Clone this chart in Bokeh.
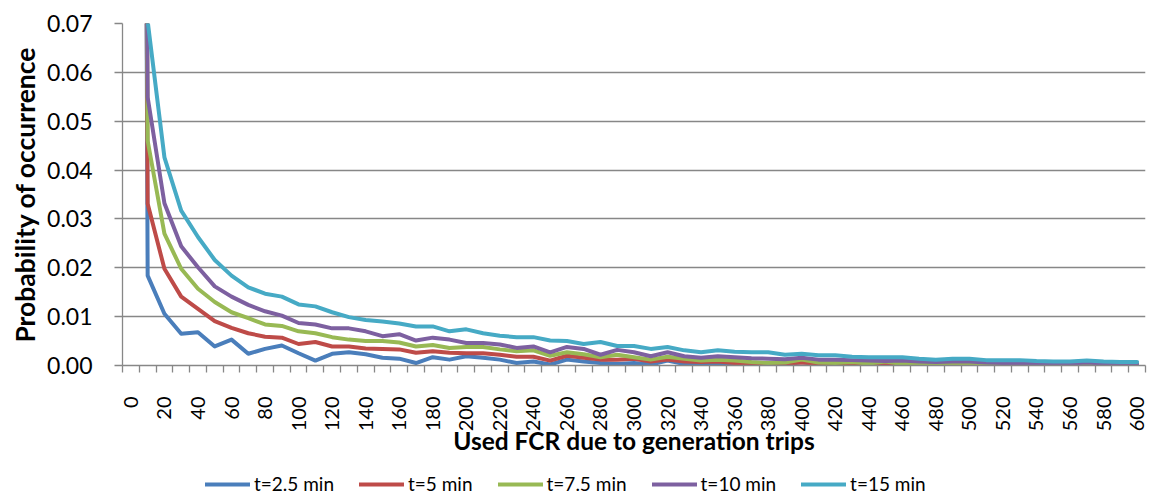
import math
from bokeh.plotting import figure
from bokeh.layouts import column
from bokeh.models import Range1d, FixedTicker, PrintfTickFormatter, Legend, LegendItem
from bokeh.embed import file_html
from bokeh.resources import INLINE

FONT = "Lato"

x_values = list(range(0, 601, 10))

s_2_5 = [0.85,
         0.0184, 0.0106, 0.0065, 0.0068, 0.0039, 0.0053, 0.0024, 0.0034, 0.0041, 0.0025,
         0.0010, 0.0024, 0.0027, 0.0023, 0.0016, 0.0014, 0.0005, 0.0017, 0.0012, 0.0019,
         0.0016, 0.0012, 0.0005, 0.0008, 0.0002, 0.0012, 0.0008, 0.0005, 0.0003, 0.0005,
         0.0002, 0.0010, 0.0003, 0.0002, 0.0002, 0.0001, 0.0001, 0.0000, 0.0001, 0.0007,
         0.0001, 0.0001, 0.0001, 0.0000, 0.0001, 0.0000, 0.0001, 0.0000, 0.0000, 0.0001,
         0.0000, 0.0000, 0.0000, 0.0000, 0.0000, 0.0000, 0.0000, 0.0000, 0.0000, 0.0000]

s_5 = [0.75,
       0.0331, 0.0198, 0.0141, 0.0116, 0.0091, 0.0077, 0.0066, 0.0059, 0.0057, 0.0044,
       0.0048, 0.0039, 0.0039, 0.0035, 0.0034, 0.0033, 0.0026, 0.0029, 0.0026, 0.0025,
       0.0025, 0.0022, 0.0018, 0.0018, 0.0010, 0.0020, 0.0016, 0.0012, 0.0012, 0.0014,
       0.0008, 0.0012, 0.0008, 0.0007, 0.0008, 0.0005, 0.0004, 0.0003, 0.0004, 0.0006,
       0.0004, 0.0004, 0.0003, 0.0004, 0.0003, 0.0003, 0.0002, 0.0002, 0.0002, 0.0001,
       0.0001, 0.0001, 0.0001, 0.0001, 0.0001, 0.0001, 0.0001, 0.0001, 0.0001, 0.0001]

s_7_5 = [0.70,
         0.0460, 0.0270, 0.0198, 0.0157, 0.0130, 0.0109, 0.0097, 0.0084, 0.0081, 0.0070,
         0.0066, 0.0058, 0.0053, 0.0050, 0.0050, 0.0047, 0.0039, 0.0042, 0.0036, 0.0038,
         0.0038, 0.0033, 0.0029, 0.0031, 0.0020, 0.0027, 0.0023, 0.0017, 0.0022, 0.0017,
         0.0012, 0.0018, 0.0014, 0.0010, 0.0012, 0.0010, 0.0007, 0.0005, 0.0006, 0.0012,
         0.0006, 0.0005, 0.0007, 0.0004, 0.0008, 0.0003, 0.0003, 0.0005, 0.0003, 0.0002,
         0.0004, 0.0002, 0.0002, 0.0001, 0.0001, 0.0002, 0.0001, 0.0002, 0.0002, 0.0001]

s_10 = [0.65,
        0.0549, 0.0332, 0.0244, 0.0201, 0.0162, 0.0141, 0.0124, 0.0111, 0.0102, 0.0087,
        0.0084, 0.0076, 0.0076, 0.0070, 0.0060, 0.0064, 0.0051, 0.0057, 0.0053, 0.0046,
        0.0046, 0.0043, 0.0036, 0.0039, 0.0027, 0.0038, 0.0034, 0.0022, 0.0032, 0.0027,
        0.0019, 0.0027, 0.0019, 0.0016, 0.0019, 0.0017, 0.0015, 0.0014, 0.0013, 0.0016,
        0.0012, 0.0012, 0.0011, 0.0010, 0.0009, 0.0010, 0.0008, 0.0007, 0.0008, 0.0008,
        0.0006, 0.0005, 0.0005, 0.0004, 0.0004, 0.0004, 0.0006, 0.0004, 0.0003, 0.0003]

s_15 = [0.60,
        0.0705, 0.0426, 0.0317, 0.0263, 0.0216, 0.0184, 0.0160, 0.0147, 0.0141, 0.0125,
        0.0121, 0.0109, 0.0099, 0.0093, 0.0090, 0.0086, 0.0080, 0.0080, 0.0070, 0.0074,
        0.0066, 0.0061, 0.0058, 0.0058, 0.0051, 0.0050, 0.0044, 0.0048, 0.0040, 0.0040,
        0.0034, 0.0038, 0.0031, 0.0027, 0.0031, 0.0028, 0.0027, 0.0027, 0.0022, 0.0024,
        0.0021, 0.0021, 0.0018, 0.0017, 0.0017, 0.0017, 0.0014, 0.0012, 0.0014, 0.0014,
        0.0011, 0.0011, 0.0011, 0.0009, 0.0008, 0.0008, 0.0010, 0.0008, 0.0007, 0.0007]

series_names = ["t=2.5 min", "t=5 min", "t=7.5 min", "t=10 min", "t=15 min"]
series_values = [s_2_5, s_5, s_7_5, s_10, s_15]
series_colors = ["#4A7EBB", "#BE4B48", "#98B954", "#7D60A0", "#46AAC5"]

x_tick_labels = list(range(0, 601, 20))
x_minor = [v - 5 for v in range(0, 611, 10)]
y_ticks = [0.0, 0.01, 0.02, 0.03, 0.04, 0.05, 0.06, 0.07]

GRAY = "#878787"

p = figure(width=1151, height=458,
           x_range=Range1d(-5, 605), y_range=Range1d(0, 0.07),
           output_backend="svg", toolbar_location=None,
           min_border_left=122, min_border_right=6,
           min_border_top=23, min_border_bottom=93)
p.outline_line_color = None
p.background_fill_color = "white"
p.border_fill_color = "white"

for name, vals, col in zip(series_names, series_values, series_colors):
    p.line(x_values, vals, line_color=col, line_width=4,
           line_join="round", line_cap="round")

# grid
p.xgrid.visible = False
p.ygrid.ticker = FixedTicker(ticks=y_ticks)
p.ygrid.grid_line_color = GRAY
p.ygrid.grid_line_width = 1.3

# y axis
ya = p.yaxis[0]
ya.ticker = FixedTicker(ticks=y_ticks)
ya.formatter = PrintfTickFormatter(format="%.2f")
ya.axis_line_color = GRAY
ya.axis_line_width = 1.3
ya.major_tick_line_color = GRAY
ya.major_tick_line_width = 1.3
ya.major_tick_out = 8
ya.major_tick_in = 0
ya.minor_tick_line_color = None
ya.major_label_standoff = 22
ya.major_label_text_font = FONT
ya.major_label_text_font_size = "23px"
ya.major_label_text_color = "black"
ya.axis_label = "Probability of occurrence"
ya.axis_label_text_font = FONT
ya.axis_label_text_font_size = "26.5px"
ya.axis_label_text_font_style = "bold"
ya.axis_label_text_color = "black"
ya.axis_label_standoff = 3

# x axis
xa = p.xaxis[0]
xa.ticker = FixedTicker(ticks=x_tick_labels, minor_ticks=x_minor)
xa.axis_line_color = GRAY
xa.axis_line_width = 1.3
xa.major_tick_out = 0
xa.major_tick_in = 0
xa.major_tick_line_color = None
xa.minor_tick_out = 7
xa.minor_tick_in = 0
xa.minor_tick_line_color = GRAY
xa.minor_tick_line_width = 1.3
xa.major_label_orientation = math.pi / 2
xa.major_label_standoff = 24
xa.major_label_text_font = FONT
xa.major_label_text_font_size = "20px"
xa.major_label_text_color = "black"
xa.axis_label = "Used FCR due to generation trips"
xa.axis_label_text_font = FONT
xa.axis_label_text_font_size = "24.5px"
xa.axis_label_text_font_style = "bold"
xa.axis_label_text_color = "black"
xa.axis_label_standoff = -8

# legend in its own strip below the chart (frame aligned with the chart's frame)
pl = figure(width=1151, height=36, x_range=Range1d(0, 1), y_range=Range1d(0, 1),
            output_backend="svg", toolbar_location=None,
            x_axis_type=None, y_axis_type=None,
            min_border_left=0, min_border_right=0, min_border_top=0, min_border_bottom=0)
pl.outline_line_color = None
pl.xgrid.visible = False
pl.ygrid.visible = False
items = []
for name, col in zip(series_names, series_colors):
    r = pl.line([0.5], [0.5], line_color=col, line_width=4, line_cap="round")
    items.append(LegendItem(label=name, renderers=[r]))

legend = Legend(items=items, orientation="horizontal", location=(83, -1))
legend.glyph_width = 45
legend.glyph_height = 20
legend.label_text_font = FONT
legend.label_text_font_size = "19px"
legend.label_text_color = "black"
legend.label_standoff = 4
legend.spacing = 25
legend.padding = 0
legend.margin = 0
legend.border_line_color = None
legend.background_fill_alpha = 0
pl.add_layout(legend, "center")

layout = column(p, pl, spacing=0)
open("out.html", "w").write(file_html(layout, INLINE))
